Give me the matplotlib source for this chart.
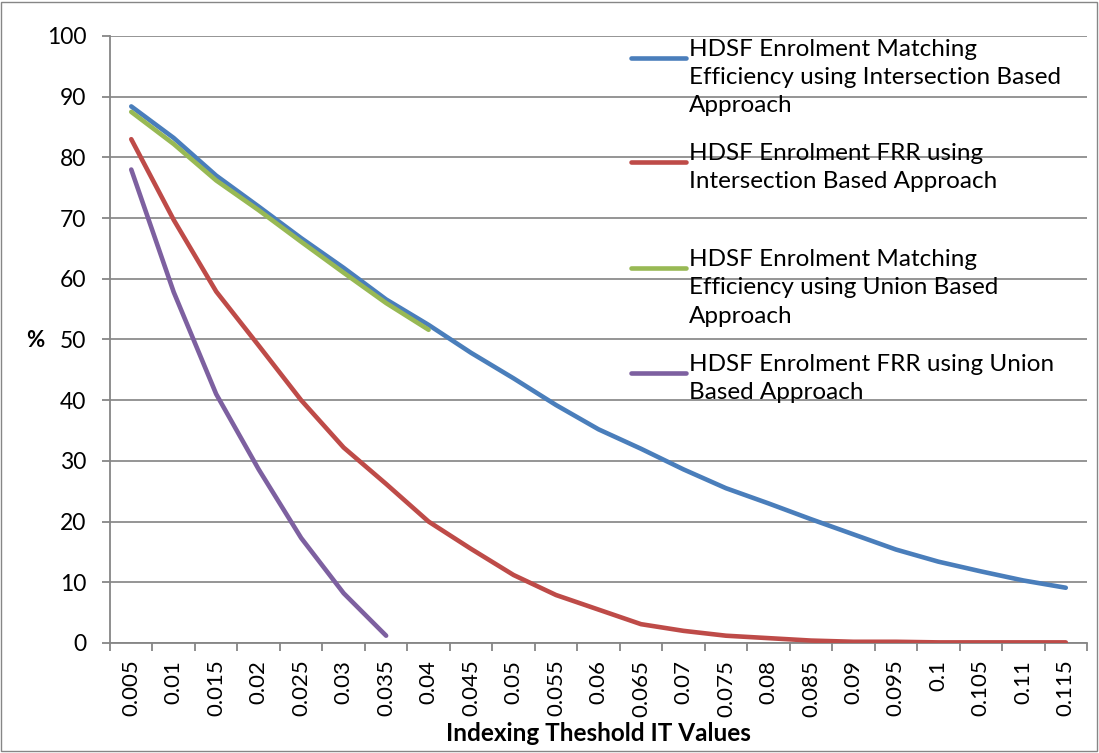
import numpy as np
import matplotlib
matplotlib.use("Agg")
import matplotlib.pyplot as plt
from matplotlib.lines import Line2D
from matplotlib.patches import Rectangle

# categorias del eje x
thresholds = ['0.005', '0.01', '0.015', '0.02', '0.025', '0.03', '0.035', '0.04',
              '0.045', '0.05', '0.055', '0.06', '0.065', '0.07', '0.075', '0.08',
              '0.085', '0.09', '0.095', '0.1', '0.105', '0.11', '0.115']

eff_inter = [88.4, 83.2, 77.0, 71.9, 66.7, 61.8, 56.6, 52.4, 47.8, 43.6, 39.2, 35.2,
             32.0, 28.6, 25.5, 23.0, 20.4, 17.9, 15.4, 13.4, 11.8, 10.3, 9.1]
frr_inter = [83.0, 69.7, 57.9, 49.0, 40.0, 32.2, 26.2, 20.0, 15.5, 11.2, 7.9, 5.5,
             3.1, 2.0, 1.2, 0.8, 0.4, 0.2, 0.2, 0.1, 0.1, 0.1, 0.1]
eff_union = [87.5, 82.2, 76.2, 71.3, 66.1, 61.0, 56.0, 51.6]
frr_union = [78.0, 57.8, 41.0, 28.6, 17.3, 8.2, 1.2]

labels = ['HDSF Enrolment Matching\nEfficiency using Intersection Based\nApproach',
          'HDSF Enrolment FRR using\nIntersection Based Approach',
          'HDSF Enrolment Matching\nEfficiency using Union Based\nApproach',
          'HDSF Enrolment FRR using Union\nBased Approach']
colors = ['#4A7EBB', '#BE4B48', '#98B954', '#7D60A0']
series = [eff_inter, frr_inter, eff_union, frr_union]

plt.rcParams['font.family'] = ['Lato', 'DejaVu Sans']

fig = plt.figure(figsize=(10.99, 7.53), dpi=100)
ax = fig.add_axes([0.1001, 0.1461, 0.8890, 0.8061])

x = np.arange(len(thresholds))
for vals, c in zip(series, colors):
    ax.plot(x[:len(vals)], vals, color=c, lw=3.3, solid_capstyle='round', zorder=3)

ax.set_xlim(-0.5, len(thresholds) - 0.5)
ax.set_ylim(0, 100)
ax.set_yticks(np.arange(0, 101, 10))
ax.set_xticks(x)
ax.set_xticklabels(thresholds, rotation=90, fontsize=16)
ax.set_xticks(np.arange(-0.5, len(thresholds), 1), minor=True)
ax.tick_params(axis='x', which='major', length=0, pad=12)
ax.tick_params(axis='x', which='minor', length=5.5, width=1.3, color='#868686')
ax.tick_params(axis='y', length=6, width=1.3, color='#868686', labelsize=16.5, pad=11)
ax.yaxis.grid(True, color='#8C8C8C', lw=1.3, zorder=1)
ax.set_axisbelow(True)
for s in ['top', 'right']:
    ax.spines[s].set_visible(False)
for s in ['left', 'bottom']:
    ax.spines[s].set_color('#868686')
    ax.spines[s].set_linewidth(1.3)

ax.set_xlabel('Indexing Theshold IT Values', fontsize=17.5, fontweight='bold', labelpad=4)
fig.text(0.032, 0.548, '%', fontsize=16, fontweight='bold', ha='center', va='center')

# leyenda a mano, como en Excel
ly = [0.923, 0.785, 0.644, 0.505]
for lab, c, yy in zip(labels, colors, ly):
    fig.add_artist(Line2D([0.574, 0.624], [yy, yy], color=c, lw=3.3,
                          solid_capstyle='round', transform=fig.transFigure))
    fig.text(0.627, yy + 0.025, lab, fontsize=17.5, va='top', ha='left', linespacing=1.42)

fig.add_artist(Rectangle((0.001, 0.002), 0.997, 0.996, fill=False, ec='#868686',
                         lw=1.0, transform=fig.transFigure))

fig.savefig('out.png', dpi=100)
